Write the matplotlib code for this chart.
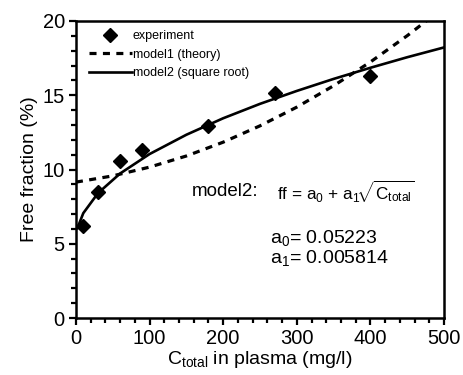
import numpy as np
import matplotlib
matplotlib.use("Agg")
import matplotlib.pyplot as plt
from matplotlib.ticker import MultipleLocator

plt.rcParams['font.family'] = ['Liberation Sans', 'DejaVu Sans']
plt.rcParams['mathtext.fontset'] = 'custom'
plt.rcParams['mathtext.rm'] = 'Liberation Sans'
plt.rcParams['mathtext.it'] = 'Liberation Sans'
plt.rcParams['mathtext.sf'] = 'Liberation Sans'

# measured points
conc = [10, 30, 60, 90, 180, 270, 400]
free_frac = [6.2, 8.5, 10.55, 11.3, 12.95, 15.15, 16.3]

# model1 (theory)
m1_x = [0, 50, 100, 150, 200, 250, 300, 350, 400, 450, 480]
m1_y = [9.15, 9.57, 10.16, 10.91, 11.84, 12.94, 14.20, 15.64, 17.24, 19.01, 20.16]

# model2 (square root)
m2_x = [2, 10, 30, 60, 100, 150, 200, 250, 300, 350, 400, 450, 500]
m2_y = [6.05, 7.06, 8.41, 9.73, 11.04, 12.34, 13.45, 14.42, 15.29, 16.10, 16.85, 17.56, 18.22]

fig = plt.figure(figsize=(4.63, 3.75), dpi=100)
ax = fig.add_axes([0.164, 0.152, 0.795, 0.792])

ax.plot(conc, free_frac, 'kD', ms=7.5, label='experiment', zorder=3)
ax.plot(m1_x, m1_y, color='k', lw=2.3, ls=(0, (2.2, 2.0)), label='model1 (theory)')
ax.plot(m2_x, m2_y, color='k', lw=1.9, label='model2 (square root)')

ax.set_xlim(0, 500)
ax.set_ylim(0, 20)
ax.xaxis.set_major_locator(MultipleLocator(100))
ax.xaxis.set_minor_locator(MultipleLocator(20))
ax.yaxis.set_major_locator(MultipleLocator(5))
ax.yaxis.set_minor_locator(MultipleLocator(1))
ax.tick_params(which='both', direction='out', width=1.6, labelsize=14.5, top=False, right=False, pad=3)
ax.tick_params(which='major', length=5)
ax.tick_params(which='minor', length=3.5)
for s in ax.spines.values():
    s.set_linewidth(1.8)

ax.set_xlabel(r'C$_{\mathrm{total}}$ in plasma (mg/l)', fontsize=14, labelpad=1)
ax.set_ylabel('Free fraction (%)', fontsize=14, labelpad=3)

ax.legend(loc='upper left', frameon=False, fontsize=9, handlelength=3.4,
          handletextpad=0.1, borderaxespad=0.0, labelspacing=0.5,
          bbox_to_anchor=(0.022, 0.985))

ax.text(0.314, 0.425, 'model2:', transform=ax.transAxes, fontsize=13.5, va='center')
ax.text(0.546, 0.425, r'ff = a$_0$ + a$_1\!\sqrt{\mathrm{C}_{\mathrm{total}}}$',
        transform=ax.transAxes, fontsize=12.3, va='center')
ax.text(0.527, 0.269, 'a$_0$= 0.05223', transform=ax.transAxes, fontsize=14, va='center')
ax.text(0.527, 0.202, 'a$_1$= 0.005814', transform=ax.transAxes, fontsize=14, va='center')

fig.savefig('out.png', dpi=100)
